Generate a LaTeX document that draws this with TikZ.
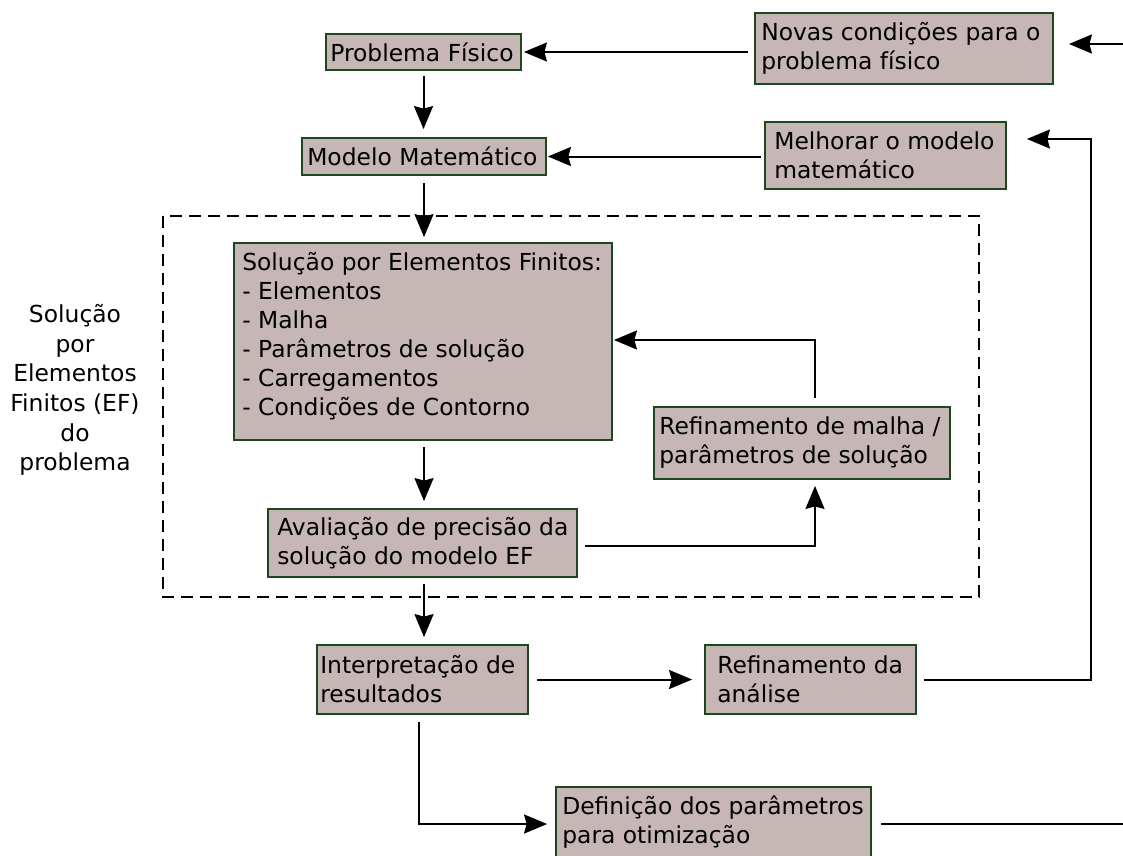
\documentclass[tikz,border=0pt]{standalone}
\usepackage{fontspec}
\setmainfont{DejaVu Sans}
\usetikzlibrary{arrows.meta}
\definecolor{boxfill}{RGB}{199,182,182}
\definecolor{boxline}{RGB}{28,72,28}
\tikzset{
  stage/.style={draw=boxline, fill=boxfill, line width=1.8pt, inner sep=0pt},
  txt/.style={anchor=west, align=left, inner sep=0pt,
    font=\fontsize{23.4}{29}\selectfont},
  plain/.style={align=center, font=\fontsize{23.4}{29.6}\selectfont},
  arr/.style={line width=2pt, -{Stealth[length=23pt,width=19pt,inset=2.5pt]}},
  link/.style={line width=2pt},
  zone/.style={dash pattern=on 12pt off 7pt, line width=1.5pt}
}
\begin{document}
\begin{tikzpicture}[x=1pt,y=-1pt]
\useasboundingbox (0,0) rectangle (1123,855);

% FE solution region
\draw[zone] (163,216) rectangle (979,597);
\node[plain] (lbl) at (75,390) {Solução\\por\\Elementos\\Finitos (EF)\\do\\problema};

% stage boxes
\node[stage, minimum width=195pt, minimum height=36pt] (prob) at (423.5,52) {};
\node[stage, minimum width=298pt, minimum height=71pt] (novas) at (904,48.5) {};
\node[stage, minimum width=244pt, minimum height=37pt] (mod) at (424,156.5) {};
\node[stage, minimum width=241pt, minimum height=67pt] (mel) at (885.5,155.5) {};
\node[stage, minimum width=378pt, minimum height=197pt] (sol) at (423,341.5) {};
\node[stage, minimum width=296pt, minimum height=72pt] (malha) at (802,443) {};
\node[stage, minimum width=309pt, minimum height=68pt] (aval) at (422.5,543) {};
\node[stage, minimum width=211pt, minimum height=69pt] (interp) at (422.5,679.5) {};
\node[stage, minimum width=211pt, minimum height=69pt] (ana) at (810.5,679.5) {};
\node[stage, minimum width=315pt, minimum height=71pt] (def) at (713.5,822.5) {};

% stage texts
\node[txt] (probT) at ([xshift=5pt]prob.west) {Problema Físico};
\node[txt] (novasT) at ([xshift=7pt,yshift=0.5pt]novas.west) {Novas condições para o\\problema físico};
\node[txt] (modT) at ([xshift=6pt]mod.west) {Modelo Matemático};
\node[txt] (melT) at ([xshift=10pt]mel.west) {Melhorar o modelo\\matemático};
\node[txt] (solT) at ([xshift=9pt,yshift=5pt]sol.west) {Solução por Elementos Finitos:\\- Elementos\\- Malha\\- Parâmetros de solução\\- Carregamentos\\- Condições de Contorno};
\node[txt] (malhaT) at ([xshift=6pt]malha.west) {Refinamento de malha /\\parâmetros de solução};
\node[txt] (avalT) at ([xshift=10pt]aval.west) {Avaliação de precisão da\\solução do modelo EF};
\node[txt] (interpT) at ([xshift=4pt]interp.west) {Interpretação de\\resultados};
\node[txt] (anaT) at ([xshift=13pt]ana.west) {Refinamento da\\análise};
\node[txt] (defT) at ([xshift=7pt]def.west) {Definição dos parâmetros\\para otimização};

% free ends at the right margin
\coordinate (inR) at (1125,44);
\coordinate (outR) at (1125,824);
\coordinate (up) at (1091,139);

% connectors
\draw[arr, shorten >=15pt] (inR) -- (inR -| novas.east);
\draw[arr, shorten <=6pt, shorten >=2pt] (prob.east -| novas.west) -- (prob.east);
\draw[arr, shorten <=5pt, shorten >=8pt] (prob.south) -- (prob.south |- mod.north);
\draw[arr, shorten <=3pt, shorten >=1pt] (mod.east -| mel.west) -- (mod.east);
\draw[arr, shorten <=7pt, shorten >=5pt] (mod.south) -- (mod.south |- sol.north);
\draw[arr, shorten <=6pt, shorten >=7pt] (mod.south |- sol.south) -- (mod.south |- aval.north);
\draw[arr, shorten <=7pt, shorten >=6pt] ([yshift=-3pt]aval.east) -| ([xshift=13pt]malha.south);
\draw[arr, shorten <=8pt, shorten >=1pt] ([xshift=13pt]malha.north) |- ([yshift=1.5pt]sol.east);
\draw[arr, shorten <=6pt, shorten >=7pt] (mod.south |- aval.south) -- (mod.south |- interp.north);
\draw[arr, shorten <=8pt, shorten >=12pt] (interp.east) -- (ana.west);
\draw[arr, shorten <=7pt, shorten >=20pt] (ana.east) -| (up) -- (up -| mel.east);
\draw[arr, shorten <=7pt, shorten >=8pt] ([xshift=-3.5pt]interp.south) |- ([yshift=-1.5pt]def.west);
\draw[link, shorten <=9pt] ([yshift=-1.5pt]def.east) -- ([yshift=-1.5pt]def.east -| outR);
\end{tikzpicture}
\end{document}
